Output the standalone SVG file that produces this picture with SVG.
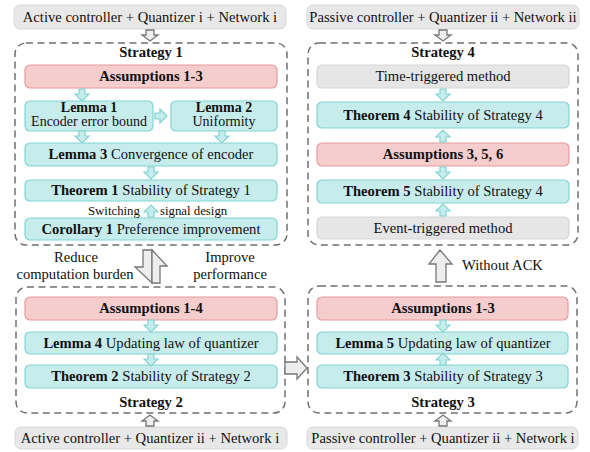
<svg xmlns="http://www.w3.org/2000/svg" width="590" height="452" viewBox="0 0 590 452" font-family="'Liberation Serif', 'Times New Roman', Times, serif">
  <style>
    text { font-family: "Liberation Serif", "Times New Roman", Times, serif; font-size: 14.6px; fill: #111; }
    .c { text-anchor: middle; }
    .b { font-weight: bold; }
    .small { font-size: 12.8px; }
    .two { font-size: 14px; }
    .frame { fill: none; stroke: #707070; stroke-width: 1.5; stroke-dasharray: 7 4.5; }
    .hdr { fill: #e8e8e8; stroke: #d8d8d8; stroke-width: 1; }
    .gray { fill: #e6e6e6; stroke: #d6d6d6; stroke-width: 1.2; }
    .pink { fill: #f5cdcd; stroke: #e89c9c; stroke-width: 1.2; }
    .cyan { fill: #c7ecec; stroke: #82d4d4; stroke-width: 1.2; }
    .carrow { fill: #c7ecec; stroke: #82d4d4; stroke-width: 1.2; }
    .garrow { fill: #eeeeee; stroke: #777; stroke-width: 1.3; }
  </style>
  <defs>
    <!-- small cyan arrow pointing down, origin at tail centre -->
    <path id="ad" d="M-3,0 H3 V5 H7 L0,12 L-7,5 H-3 Z"/>
    <!-- small grey hollow arrow pointing down -->
    <path id="gd" d="M-4,0 H4 V5 H8 L0,11 L-8,5 H-4 Z"/>
  </defs>

  <!-- Strategy 1 -->
  <g id="hdr1">
    <rect class="hdr" x="14" y="5" width="272" height="24" rx="6"/>
    <text class="c" x="150" y="22">Active controller + Quantizer i + Network i</text>
  </g>
  <g id="strategy1">
    <rect class="frame" x="15" y="43" width="272" height="202" rx="11"/>
    <text class="c b" x="151" y="57">Strategy 1</text>
  </g>
  <g id="s1-assumptions">
    <rect class="pink" x="25" y="65" width="252" height="23" rx="5"/>
    <text class="c b" x="151" y="81">Assumptions 1-3</text>
  </g>
  <g id="lemma1">
    <rect class="cyan" x="25" y="101" width="128" height="30" rx="5"/>
    <text class="c b two" x="89" y="112">Lemma 1</text>
    <text class="c two" x="89" y="126">Encoder error bound</text>
  </g>
  <g id="lemma2">
    <rect class="cyan" x="171" y="101" width="106" height="30" rx="5"/>
    <text class="c b two" x="224" y="112">Lemma 2</text>
    <text class="c two" x="224" y="126">Uniformity</text>
  </g>
  <g id="lemma3">
    <rect class="cyan" x="25" y="143" width="252" height="23" rx="5"/>
    <text class="c" x="151" y="159"><tspan class="b">Lemma 3</tspan> Convergence of encoder</text>
  </g>
  <g id="theorem1">
    <rect class="cyan" x="25" y="180" width="252" height="21" rx="5"/>
    <text class="c" x="151" y="195"><tspan class="b">Theorem 1</tspan> Stability of Strategy 1</text>
  </g>
  <g id="corollary1">
    <rect class="cyan" x="25" y="218" width="252" height="22" rx="5"/>
    <text class="c" x="151" y="234"><tspan class="b">Corollary 1</tspan> Preference improvement</text>
  </g>

  <!-- Strategy 4 -->
  <g id="hdr4">
    <rect class="hdr" x="307" y="5" width="272" height="24" rx="6"/>
    <text class="c" x="443" y="22">Passive controller + Quantizer ii + Network ii</text>
  </g>
  <g id="strategy4">
    <rect class="frame" x="308" y="43" width="270" height="202" rx="11"/>
    <text class="c b" x="443" y="57">Strategy 4</text>
  </g>
  <g id="time-triggered">
    <rect class="gray" x="317" y="65" width="252" height="23" rx="5"/>
    <text class="c" x="443" y="81">Time-triggered method</text>
  </g>
  <g id="theorem4">
    <rect class="cyan" x="317" y="102" width="252" height="26" rx="5"/>
    <text class="c" x="443" y="120"><tspan class="b">Theorem 4</tspan> Stability of Strategy 4</text>
  </g>
  <g id="s4-assumptions">
    <rect class="pink" x="317" y="143" width="252" height="23" rx="5"/>
    <text class="c b" x="443" y="159">Assumptions 3, 5, 6</text>
  </g>
  <g id="theorem5">
    <rect class="cyan" x="317" y="180" width="252" height="23" rx="5"/>
    <text class="c" x="443" y="196"><tspan class="b">Theorem 5</tspan> Stability of Strategy 4</text>
  </g>
  <g id="event-triggered">
    <rect class="gray" x="317" y="217" width="252" height="22" rx="5"/>
    <text class="c" x="443" y="233">Event-triggered method</text>
  </g>

  <!-- Strategy 2 -->
  <g id="strategy2">
    <rect class="frame" x="16" y="287" width="269" height="126" rx="11"/>
    <text class="c b" x="151" y="407">Strategy 2</text>
  </g>
  <g id="s2-assumptions">
    <rect class="pink" x="25" y="297" width="252" height="23" rx="5"/>
    <text class="c b" x="151" y="313">Assumptions 1-4</text>
  </g>
  <g id="lemma4">
    <rect class="cyan" x="25" y="332" width="252" height="22" rx="5"/>
    <text class="c" x="151" y="348"><tspan class="b">Lemma 4</tspan>  Updating law of quantizer</text>
  </g>
  <g id="theorem2">
    <rect class="cyan" x="25" y="365" width="252" height="23" rx="5"/>
    <text class="c" x="151" y="381"><tspan class="b">Theorem 2</tspan>  Stability of Strategy 2</text>
  </g>
  <g id="hdr2">
    <rect class="hdr" x="15" y="427" width="272" height="22" rx="6"/>
    <text class="c" x="150" y="443">Active controller + Quantizer ii + Network i</text>
  </g>

  <!-- Strategy 3 -->
  <g id="strategy3">
    <rect class="frame" x="308" y="286" width="269" height="127" rx="11"/>
    <text class="c b" x="443" y="407">Strategy 3</text>
  </g>
  <g id="s3-assumptions">
    <rect class="pink" x="317" y="297" width="251" height="23" rx="5"/>
    <text class="c b" x="443" y="313">Assumptions 1-3</text>
  </g>
  <g id="lemma5">
    <rect class="cyan" x="317" y="332" width="251" height="22" rx="5"/>
    <text class="c" x="443" y="348"><tspan class="b">Lemma 5</tspan> Updating law of quantizer</text>
  </g>
  <g id="theorem3">
    <rect class="cyan" x="317" y="365" width="251" height="23" rx="5"/>
    <text class="c" x="443" y="381"><tspan class="b">Theorem 3</tspan> Stability of Strategy 3</text>
  </g>
  <g id="hdr3">
    <rect class="hdr" x="307" y="427" width="271" height="22" rx="6"/>
    <text class="c" x="443" y="443">Passive controller + Quantizer ii + Network i</text>
  </g>

  <!-- connectors -->
  <g id="connectors">
    <!-- inside Strategy 1 -->
    <use href="#ad" class="carrow" transform="translate(82,89)"/>
    <use href="#ad" class="carrow" transform="translate(155,116) rotate(-90)"/>
    <use href="#ad" class="carrow" transform="translate(82,131)"/>
    <use href="#ad" class="carrow" transform="translate(222,131)"/>
    <use href="#ad" class="carrow" transform="translate(151,167)"/>
    <use href="#ad" class="carrow" transform="translate(151,217) rotate(180)"/>
    <text class="small" x="88" y="215">Switching</text>
    <text class="small" x="160" y="215">signal design</text>

    <!-- inside Strategy 4 -->
    <use href="#ad" class="carrow" transform="translate(443,89)"/>
    <use href="#ad" class="carrow" transform="translate(443,142) rotate(180)"/>
    <use href="#ad" class="carrow" transform="translate(443,167)"/>
    <use href="#ad" class="carrow" transform="translate(443,216) rotate(180)"/>

    <!-- inside Strategy 2 -->
    <use href="#ad" class="carrow" transform="translate(151,320)"/>
    <use href="#ad" class="carrow" transform="translate(151,354)"/>

    <!-- inside Strategy 3 -->
    <use href="#ad" class="carrow" transform="translate(443,320)"/>
    <use href="#ad" class="carrow" transform="translate(443,365) rotate(180)"/>

    <!-- header arrows -->
    <use href="#gd" class="garrow" transform="translate(150,30)"/>
    <use href="#gd" class="garrow" transform="translate(443,30)"/>
    <use href="#gd" class="garrow" transform="translate(150,426) rotate(180)"/>
    <use href="#gd" class="garrow" transform="translate(443,426) rotate(180)"/>

    <!-- Strategy 1 / Strategy 2 exchange -->
    <path class="garrow" d="M143,250 H152 V283 L135,267 H143 Z"/>
    <path class="garrow" d="M152,283 H160 V266 H167 L152,250 Z"/>
    <text class="c" x="76" y="262">Reduce</text>
    <text class="c" x="75" y="279">computation burden</text>
    <text class="c" x="230" y="262">Improve</text>
    <text class="c" x="230" y="279">performance</text>

    <!-- Strategy 2 to Strategy 3 -->
    <path class="garrow" d="M285,362 H297 V357 L307,368 L297,379 V374 H285 Z"/>

    <!-- Strategy 3 to Strategy 4 -->
    <path class="garrow" d="M436,282 V264 H429 L440,250 L452,264 H446 V282 Z"/>
    <text x="462" y="270">Without ACK</text>
  </g>
</svg>
